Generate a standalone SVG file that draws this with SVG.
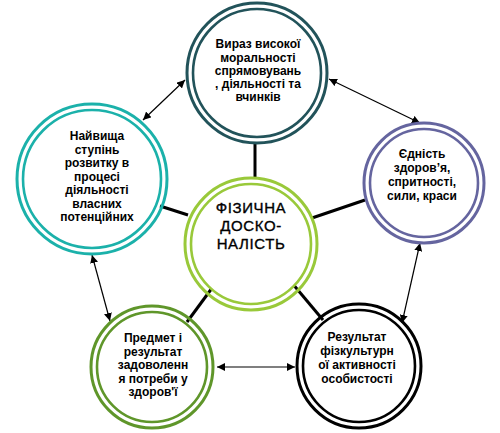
<svg xmlns="http://www.w3.org/2000/svg" width="500" height="433" viewBox="0 0 500 433">
<style>
.o{fill:none;stroke-width:3}
.i{fill:#fff;stroke-width:2.6}
.t{font-family:"Liberation Sans",Arial,sans-serif;font-size:12px;font-weight:bold;text-anchor:middle;fill:#000}
.c{font-family:"Liberation Sans",Arial,sans-serif;font-size:15px;letter-spacing:0.6px;text-anchor:middle;fill:#000;stroke:#000;stroke-width:0.35}
.k{stroke:#000;stroke-width:3;fill:none}
.a{stroke:#000;stroke-width:1.2;fill:none;marker-start:url(#ah);marker-end:url(#ah)}
</style>
<defs>
<marker id="ah" viewBox="0 0 10 10" refX="10" refY="5" markerWidth="8" markerHeight="8" markerUnits="userSpaceOnUse" orient="auto-start-reverse">
<path d="M0,0 L10,5 L0,10 Z" fill="#000"/>
</marker>
</defs>
<rect width="500" height="433" fill="#fff"/>
<g id="connectors">
<line class="k" x1="255" y1="143" x2="255" y2="177"/>
<line class="k" x1="160" y1="206" x2="188" y2="215"/>
<line class="k" x1="312" y1="218" x2="365" y2="200"/>
<line class="k" x1="215" y1="284" x2="187" y2="322"/>
<line class="k" x1="292" y1="283" x2="323" y2="320"/>
<line class="a" x1="143" y1="120" x2="185" y2="80"/>
<line class="a" x1="329" y1="79" x2="420" y2="123"/>
<line class="a" x1="420" y1="243" x2="402" y2="323"/>
<line class="a" x1="92" y1="255" x2="110" y2="321"/>
<line class="a" x1="217" y1="367" x2="295" y2="367"/>
</g>
<g id="top">
<circle class="o" cx="257" cy="73" r="70" stroke="#22535a"/>
<circle class="i" cx="257" cy="73" r="64" stroke="#22535a"/>
<text class="t" x="258" y="48">Вираз високої</text>
<text class="t" x="258" y="62">моральності</text>
<text class="t" x="258" y="75">спрямовувань</text>
<text class="t" x="258" y="88">, діяльності та</text>
<text class="t" x="258" y="101">вчинків</text>
</g>
<g id="left">
<circle class="o" cx="92" cy="179" r="75" stroke="#1bb1aa"/>
<circle class="i" cx="92" cy="179" r="69" stroke="#1bb1aa"/>
<text class="t" x="97" y="140">Найвища</text>
<text class="t" x="97" y="153.5">ступінь</text>
<text class="t" x="97" y="167">розвитку в</text>
<text class="t" x="97" y="180.5">процесі</text>
<text class="t" x="97" y="194">діяльності</text>
<text class="t" x="97" y="207.5">власних</text>
<text class="t" x="97" y="221">потенційних</text>
</g>
<g id="right">
<circle class="o" cx="424" cy="183" r="60" stroke="#65659f"/>
<circle class="i" cx="424" cy="183" r="54" stroke="#65659f"/>
<text class="t" x="422" y="158">Єдність</text>
<text class="t" x="422" y="172">здоров’я,</text>
<text class="t" x="422" y="186">спритності,</text>
<text class="t" x="422" y="200">сили, краси</text>
</g>
<g id="center">
<circle class="o" cx="251" cy="244" r="66" stroke="#99c93a"/>
<circle class="i" cx="251" cy="244" r="60" stroke="#99c93a"/>
<text class="c" x="251" y="213">ФІЗИЧНА</text>
<text class="c" x="251" y="231">ДОСКО-</text>
<text class="c" x="251" y="249">НАЛІСТЬ</text>
</g>
<g id="bottomleft">
<circle class="o" cx="152" cy="367" r="61" stroke="#5f962a"/>
<circle class="i" cx="152" cy="367" r="55" stroke="#5f962a"/>
<text class="t" x="153" y="342">Предмет і</text>
<text class="t" x="153" y="355.5">результат</text>
<text class="t" x="153" y="369">задоволенн</text>
<text class="t" x="153" y="382.5">я потреби у</text>
<text class="t" x="153" y="396">здоров'ї</text>
</g>
<g id="bottomright">
<circle class="o" cx="359" cy="366" r="62" stroke="#000"/>
<circle class="i" cx="359" cy="366" r="56" stroke="#000"/>
<text class="t" x="357" y="341">Результат</text>
<text class="t" x="357" y="355">фізкультурн</text>
<text class="t" x="357" y="369">ої активності</text>
<text class="t" x="357" y="383">особистості</text>
</g>
</svg>
